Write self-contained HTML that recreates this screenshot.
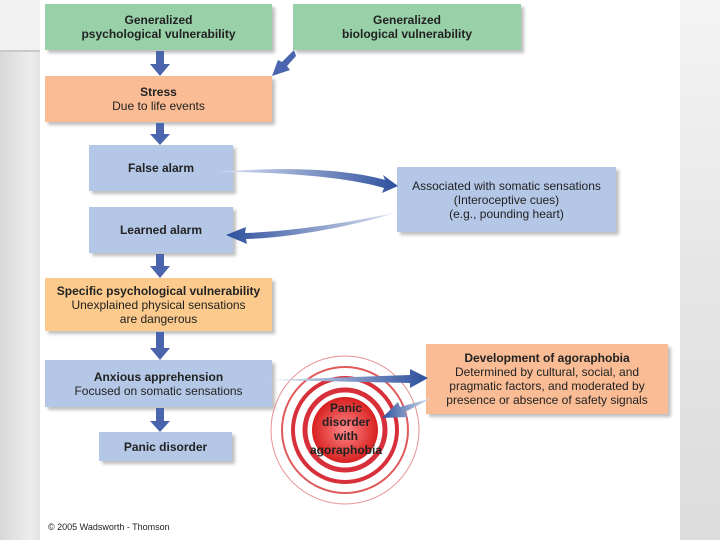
<!DOCTYPE html>
<html><head><style>
body{margin:0;width:720px;height:540px;position:relative;overflow:hidden;font-family:"Liberation Sans",sans-serif;background:linear-gradient(90deg,#d8d8d8,#ececec 30px,#e4e4e4 40px);}
.panel{position:absolute;left:40px;top:0;width:640px;height:540px;background:#fff;}
.rside{position:absolute;left:680px;top:0;width:40px;height:540px;background:linear-gradient(180deg,#f4f4f4,#e6e6e6 50%,#dcdcdc);}
.lstrip{position:absolute;left:0;top:0;width:40px;height:50px;background:#f2f2f2;border-bottom:2px solid #c8c8c8;}
.b{position:absolute;box-sizing:border-box;text-align:center;font-size:12px;line-height:14px;color:#222;display:flex;flex-direction:column;justify-content:center;box-shadow:3px 3px 3px rgba(0,0,0,.25);}
.g{background:#98d0a8}.o{background:#f9bc95}.bl{background:#b5c7e7}.y{background:#fbca8c}
b{font-weight:bold}
</style></head><body>
<div class="lstrip"></div><div class="panel"></div><div class="rside"></div>
<div class="b g" style="left:45px;top:4px;width:227px;height:46px"><b>Generalized<br>psychological vulnerability</b></div>
<div class="b g" style="left:293px;top:4px;width:228px;height:46px"><b>Generalized<br>biological vulnerability</b></div>
<div class="b o" style="left:45px;top:76px;width:227px;height:46px"><b>Stress</b>Due to life events</div>
<div class="b bl" style="left:89px;top:145px;width:144px;height:46px"><b>False alarm</b></div>
<div class="b bl" style="left:89px;top:207px;width:144px;height:46px"><b>Learned alarm</b></div>
<div class="b bl" style="left:397px;top:167px;width:219px;height:65px">Associated with somatic sensations<br>(Interoceptive cues)<br>(e.g., pounding heart)</div>
<div class="b y" style="left:45px;top:278px;width:227px;height:53px"><b>Specific psychological vulnerability</b>Unexplained physical sensations<br>are dangerous</div>
<div class="b bl" style="left:45px;top:360px;width:227px;height:47px"><b>Anxious apprehension</b>Focused on somatic sensations</div>
<div class="b bl" style="left:99px;top:432px;width:133px;height:29px"><b>Panic disorder</b></div>
<div class="b o" style="left:426px;top:344px;width:242px;height:70px"><b>Development of agoraphobia</b>Determined by cultural, social, and<br>pragmatic factors, and moderated by<br>presence or absence of safety signals</div>
<svg style="position:absolute;left:0;top:0" width="720" height="540">
<defs><linearGradient id="ag" x1="0" x2="1"><stop offset="0" stop-color="#dfe6f4"/><stop offset="1" stop-color="#2d4f9c"/></linearGradient>
<linearGradient id="agr" x1="1" x2="0"><stop offset="0" stop-color="#dfe6f4"/><stop offset="1" stop-color="#2d4f9c"/></linearGradient>
<radialGradient id="rg"><stop offset="0" stop-color="#f88"/><stop offset="1" stop-color="#d82020"/></radialGradient></defs>
<g fill="#4a64ad">
<path d="M156,51 L164,51 L164,64 L170,64 L160,76 L150,64 L156,64Z"/>
<path d="M156,123 L164,123 L164,134 L170,134 L160,145 L150,134 L156,134Z"/>
<path d="M156,254 L164,254 L164,266 L170,266 L160,278 L150,266 L156,266Z"/>
<path d="M156,332 L164,332 L164,348 L170,348 L160,360 L150,348 L156,348Z"/>
<path d="M156,408 L164,408 L164,421 L170,421 L160,432 L150,421 L156,421Z"/>
<path d="M294,50 L296,56 L287,66 L290,70 L272,76 L278,60 L282,62Z"/>
</g>
<g fill="none" stroke="#d8303a">
<circle cx="345" cy="430" r="40" stroke-width="5"/>
<circle cx="345" cy="430" r="52" stroke-width="4"/>
<circle cx="345" cy="430" r="63" stroke-width="2" stroke="#e05a5a"/>
<circle cx="345" cy="430" r="74" stroke-width="1" stroke="#e89090"/>
</g>
<circle cx="345" cy="430" r="33" fill="url(#rg)"/>
<path d="M218,172 C290,166 350,170 385,180 L383,175 L398,186 L382,193 L384,188 C350,178 290,172 218,172Z" fill="url(#ag)"/>
<path d="M398,212 C340,225 280,232 245,233 L246,227 L226,235 L247,244 L246,239 C280,238 340,230 398,212Z" fill="url(#agr)"/>
<path d="M270,380 L410,375 L410,369 L428,378 L410,388 L410,383Z" fill="url(#ag)"/>
<path d="M432,398 L405,412 L408,417 L382,418 L398,402 L400,407Z" fill="url(#agr)"/>
<text x="346" y="412" text-anchor="middle" font-size="12" font-weight="bold" fill="#222">Panic</text>
<text x="346" y="426" text-anchor="middle" font-size="12" font-weight="bold" fill="#222">disorder</text>
<text x="346" y="440" text-anchor="middle" font-size="12" font-weight="bold" fill="#222">with</text>
<text x="346" y="454" text-anchor="middle" font-size="12" font-weight="bold" fill="#222">agoraphobia</text>
<text x="48" y="530" font-size="9" fill="#222">© 2005 Wadsworth - Thomson</text>
</svg>
</body></html>
